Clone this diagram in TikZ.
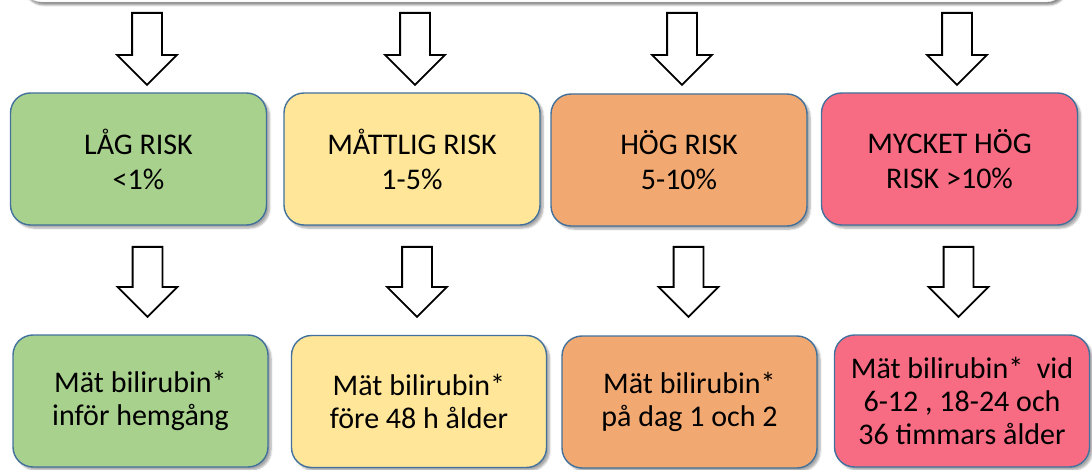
\documentclass[tikz,border=0pt]{standalone}
\usepackage{fontspec}
\setmainfont{Carlito}
\usepackage{xcolor}
\usetikzlibrary{shapes.arrows, shadows.blur}

\definecolor{boxblue}{HTML}{41719C}
\definecolor{lowgreen}{HTML}{A9D18E}
\definecolor{midyellow}{HTML}{FFE699}
\definecolor{highorange}{HTML}{F2A971}
\definecolor{toppink}{HTML}{F76C83}

\begin{document}
\begin{tikzpicture}[
    x=1pt, y=-1pt,
    riskbox/.style={rectangle, rounded corners=20pt, draw=boxblue, line width=1.4pt, minimum width=256pt, minimum height=132pt, align=center, font=\fontsize{30}{35}\selectfont, blur shadow={shadow xshift=3pt, shadow yshift=-3pt, shadow opacity=35, shadow blur steps=6}},
    actbox/.style={riskbox, minimum width=255pt, font=\fontsize{30}{33}\selectfont},
    downarrow/.style={single arrow, draw=black, fill=white, line width=1.8pt, rotate=-90, anchor=tail, minimum height=72pt, inner xsep=0pt, inner ysep=14pt, single arrow head extend=15pt, single arrow tip angle=90, single arrow head indent=0pt}
]
\useasboundingbox (0,0) rectangle (1092,470);

% Source box (cut off at the top)
\node[rectangle, rounded corners=20pt, draw=gray!25, fill=white, minimum width=1044pt, minimum height=84pt, blur shadow={shadow xshift=2pt, shadow yshift=-3pt, shadow opacity=45, shadow blur steps=6}] (source) at (544,-40) {};

% Arrows to risk levels
\node[downarrow] (a1) at (147,12) {};
\node[downarrow] (a2) at (415,12) {};
\node[downarrow] (a3) at (682,12) {};
\node[downarrow] (a4) at (957,12) {};

% Risk levels
\node[riskbox, fill=lowgreen] (low) at (138.5,159) {LÅG RISK\\<1\%};
\node[riskbox, fill=midyellow] (mid) at (412,159) {MÅTTLIG RISK\\1-5\%};
\node[riskbox, fill=highorange] (high) at (679,160) {HÖG RISK\\5-10\%};
\node[riskbox, fill=toppink] (vhigh) at (949.5,159) {MYCKET HÖG\\RISK >10\%};

% Arrows to actions
\node[downarrow, minimum height=70pt] (b1) at (147.5,246) {};
\node[downarrow, minimum height=70pt] (b2) at (417,246) {};
\node[downarrow, minimum height=70pt] (b3) at (688.5,246) {};
\node[downarrow, minimum height=70pt] (b4) at (958.5,246) {};

% Actions
\node[actbox, fill=lowgreen] (actlow) at (140.5,401) {Mät bilirubin*\\inför hemgång};
\node[actbox, fill=midyellow] (actmid) at (419,401.5) {Mät bilirubin*\\före 48 h ålder};
\node[actbox, fill=highorange] (acthigh) at (689.5,402) {Mät bilirubin*\\på dag 1 och 2};
\node[actbox, fill=toppink] (actvhigh) at (962,401) {Mät bilirubin*\ \ vid\\6-12 , 18-24 och\\36 timmars ålder};

\end{tikzpicture}
\end{document}
